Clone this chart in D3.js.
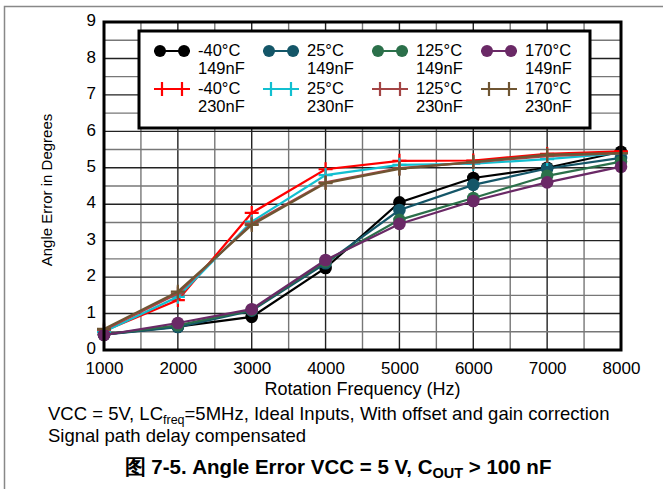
<!DOCTYPE html>
<html>
<head>
<meta charset="utf-8">
<script src="https://cdn.jsdelivr.net/npm/d3@7"></script>
<style>
  body { margin: 0; background: #fff; }
  text { font-family: "Liberation Sans", Arial, sans-serif; }
</style>
</head>
<body>
<svg id="chart" width="663" height="489"></svg>
<script>
const freqs = [1000, 2000, 3000, 4000, 5000, 6000, 7000, 8000];

// 149nF series
const m40_149 = [0.43, 0.64, 0.91, 2.25, 4.05, 4.72, 5.0, 5.44];
const p25_149 = [0.42, 0.63, 1.08, 2.38, 3.84, 4.53, 4.98, 5.27];
const p125_149 = [0.42, 0.68, 1.1, 2.43, 3.57, 4.17, 4.78, 5.17];
const p170_149 = [0.41, 0.74, 1.12, 2.47, 3.46, 4.09, 4.6, 5.03];
// 230nF series
const m40_230 = [0.52, 1.37, 3.76, 4.96, 5.19, 5.2, 5.38, 5.45];
const p25_230 = [0.5, 1.46, 3.52, 4.8, 5.08, 5.11, 5.24, 5.4];
const p125_230 = [0.55, 1.55, 3.47, 4.6, 4.99, 5.15, 5.32, 5.4];
const p170_230 = [0.58, 1.6, 3.43, 4.58, 4.97, 5.16, 5.36, 5.4];

const series = [
  { temp: "-40°C", cap: "149nF", vals: m40_149, color: "#000000", mark: "circle" },
  { temp: "-40°C", cap: "230nF", vals: m40_230, color: "#ff0000", mark: "plus" },
  { temp: "25°C", cap: "149nF", vals: p25_149, color: "#145668", mark: "circle" },
  { temp: "25°C", cap: "230nF", vals: p25_230, color: "#12bfd0", mark: "plus" },
  { temp: "125°C", cap: "149nF", vals: p125_149, color: "#2b704a", mark: "circle" },
  { temp: "125°C", cap: "230nF", vals: p125_230, color: "#a34444", mark: "plus" },
  { temp: "170°C", cap: "149nF", vals: p170_149, color: "#6a2966", mark: "circle" },
  { temp: "170°C", cap: "230nF", vals: p170_230, color: "#6f5532", mark: "plus" }
];

const yTicks = [0, 1, 2, 3, 4, 5, 6, 7, 8, 9];

const svg = d3.select("#chart");
const margin = { left: 104, right: 42, top: 22, bottom: 139 };
const W = 663, H = 489;

const x = d3.scaleLinear().domain([1000, 8000]).range([margin.left, W - margin.right]);
const y = d3.scaleLinear().domain([0, 9]).range([H - margin.bottom, margin.top]);

// page frame
svg.append("path")
  .attr("d", `M4.5,${H} V6.5 H${W}`)
  .attr("fill", "none").attr("stroke", "#888").attr("stroke-width", 1.5);

// grid
const grid = svg.append("g");
grid.selectAll(".vg").data(d3.range(1500, 8000, 500)).enter().append("line")
  .attr("x1", d => x(d)).attr("x2", d => x(d))
  .attr("y1", y(0)).attr("y2", y(9))
  .attr("stroke", d => d % 1000 === 0 ? "#222" : "#777").attr("stroke-width", 1.4);
grid.selectAll(".hg").data(d3.range(0.5, 9, 0.5)).enter().append("line")
  .attr("x1", x(1000)).attr("x2", x(8000))
  .attr("y1", d => y(d)).attr("y2", d => y(d))
  .attr("stroke", d => d % 1 === 0 ? "#222" : "#777").attr("stroke-width", 1.4);

// axes
const xAxis = svg.append("g")
  .attr("transform", `translate(0,${y(0)})`)
  .call(d3.axisBottom(x).tickValues(freqs).tickSize(0).tickPadding(12).tickFormat(d3.format("d")));
xAxis.select(".domain").remove();
xAxis.selectAll("text").attr("font-size", 17).attr("fill", "#000")
  .style("font-family", "Liberation Sans, Arial, sans-serif");

const yAxis = svg.append("g")
  .attr("transform", `translate(${x(1000)},0)`)
  .call(d3.axisLeft(y).tickValues(yTicks).tickSize(0).tickPadding(8));
yAxis.select(".domain").remove();
yAxis.selectAll("text").attr("font-size", 17).attr("fill", "#000").attr("dy", "0.22em")
  .style("font-family", "Liberation Sans, Arial, sans-serif");

// series lines
const line = d3.line().x((d, i) => x(freqs[i])).y(d => y(d));
const plot = svg.append("g");
series.forEach(s => {
  const g = plot.append("g");
  g.append("path").datum(s.vals).attr("d", line)
    .attr("fill", "none").attr("stroke", s.color).attr("stroke-width", 2.2);
  if (s.mark === "circle") {
    g.selectAll("circle").data(s.vals).enter().append("circle")
      .attr("cx", (d, i) => x(freqs[i])).attr("cy", d => y(d)).attr("r", 6.3)
      .attr("fill", s.color);
  } else {
    g.selectAll("path.pl").data(s.vals).enter().append("path")
      .attr("class", "pl")
      .attr("d", (d, i) => {
        const cx = x(freqs[i]), cy = y(d);
        return `M${cx - 7},${cy}H${cx + 7}M${cx},${cy - 7}V${cy + 7}`;
      })
      .attr("stroke", s.color).attr("stroke-width", 2.2).attr("fill", "none");
  }
});

// plot border
svg.append("rect")
  .attr("x", x(1000)).attr("y", y(9))
  .attr("width", x(8000) - x(1000)).attr("height", y(0) - y(9))
  .attr("fill", "none").attr("stroke", "#000").attr("stroke-width", 3);

// legend
const lg = svg.append("g");
lg.append("rect").attr("x", 139).attr("y", 31).attr("width", 451).attr("height", 97)
  .attr("fill", "#fff").attr("stroke", "#000").attr("stroke-width", 3);

const colX = [154, 263, 372, 481];
const rowY = [51, 89];
series.forEach((s, i) => {
  const col = Math.floor(i / 2), row = i % 2;
  const gx = colX[col], gy = rowY[row];
  const item = lg.append("g").attr("transform", `translate(${gx},${gy})`);
  item.append("line").attr("x1", 0).attr("x2", 36).attr("y1", 0).attr("y2", 0)
    .attr("stroke", s.color).attr("stroke-width", 2.2);
  if (s.mark === "circle") {
    [6, 30].forEach(cx => item.append("circle").attr("cx", cx).attr("cy", 0).attr("r", 6).attr("fill", s.color));
  } else {
    item.append("path").attr("d", "M8,-7V7M28,-7V7")
      .attr("stroke", s.color).attr("stroke-width", 2.2);
  }
  item.append("text").attr("x", 44).attr("y", 4.5).attr("font-size", 16.5).attr("fill", "#000").text(s.temp);
  item.append("text").attr("x", 44).attr("y", 23).attr("font-size", 16.5).attr("fill", "#000").text(s.cap);
});

// axis titles
svg.append("text")
  .attr("transform", `translate(52,190) rotate(-90)`)
  .attr("text-anchor", "middle").attr("font-size", 15).text("Angle Error in Degrees");
svg.append("text")
  .attr("x", (x(1000) + x(8000)) / 2).attr("y", 395)
  .attr("text-anchor", "middle").attr("font-size", 18).text("Rotation Frequency (Hz)");

// notes
const n1 = svg.append("text").attr("x", 48).attr("y", 420).attr("font-size", 18.5);
n1.append("tspan").text("VCC = 5V, LC");
n1.append("tspan").attr("font-size", 12.5).attr("dy", 3.5).text("freq");
n1.append("tspan").attr("dy", -3.5).text("=5MHz, Ideal Inputs, With offset and gain correction");
svg.append("text").attr("x", 48).attr("y", 442).attr("font-size", 18.5).text("Signal path delay compensated");

// caption
const cap = svg.append("text").attr("x", 338).attr("y", 474)
  .attr("text-anchor", "middle").attr("font-size", 20.5).attr("font-weight", "bold");
cap.append("tspan").text("图 7-5. Angle Error VCC = 5 V, C");
cap.append("tspan").attr("font-size", 14.5).attr("dy", 4).text("OUT");
cap.append("tspan").attr("dy", -4).text(" > 100 nF");
</script>
</body>
</html>
